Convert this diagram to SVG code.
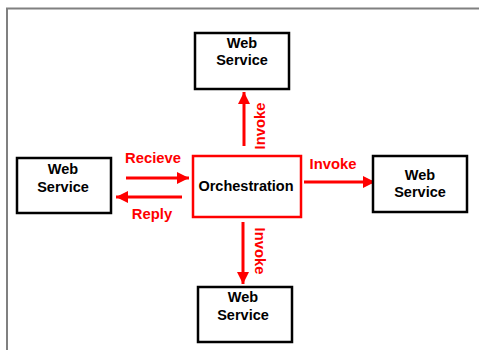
<svg xmlns="http://www.w3.org/2000/svg" width="479" height="350" viewBox="0 0 479 350">
  <style>
    .svc { fill: #ffffff; stroke: #000000; stroke-width: 2.5; }
    .orch { fill: #ffffff; stroke: #ff0000; stroke-width: 2.5; }
    .lbl { font-family: "Liberation Sans", Arial, sans-serif; font-weight: bold; font-size: 14.5px; fill: #000000; text-anchor: middle; }
    .red { font-family: "Liberation Sans", Arial, sans-serif; font-weight: bold; font-size: 14.8px; fill: #ff0000; text-anchor: middle; }
    .wire { stroke: #ff0000; stroke-width: 3; fill: none; marker-end: url(#head); }
  </style>
  <defs>
    <marker id="head" viewBox="0 0 10 10" refX="10" refY="5" markerWidth="4" markerHeight="4" orient="auto" markerUnits="strokeWidth">
      <path d="M0,0 L10,5 L0,10 Z" fill="#ff0000"/>
    </marker>
  </defs>

  <rect width="479" height="350" fill="#ffffff"/>
  <!-- page frame -->
  <path d="M7,350 V8.5 H479" fill="none" stroke="#808080" stroke-width="2"/>

  <g id="connectors">
    <line class="wire" x1="244" y1="146" x2="244" y2="92"/>
    <line class="wire" x1="126" y1="178" x2="189" y2="178"/>
    <line class="wire" x1="182" y1="197" x2="116" y2="197"/>
    <line class="wire" x1="304" y1="182" x2="375" y2="182"/>
    <line class="wire" x1="243" y1="222" x2="243" y2="284"/>
    <text class="red" transform="translate(265,126) rotate(-90)">Invoke</text>
    <text class="red" x="153" y="163">Recieve</text>
    <text class="red" x="152" y="219">Reply</text>
    <text class="red" x="333" y="169">Invoke</text>
    <text class="red" transform="translate(255,251) rotate(90)">Invoke</text>
  </g>

  <g id="ws-top">
    <rect class="svc" x="195" y="33" width="94" height="56"/>
    <text class="lbl" x="242" y="48">Web</text>
    <text class="lbl" x="242" y="65">Service</text>
  </g>

  <g id="ws-left">
    <rect class="svc" x="17" y="158" width="94" height="55"/>
    <text class="lbl" x="63" y="174">Web</text>
    <text class="lbl" x="63" y="192">Service</text>
  </g>

  <g id="orchestration">
    <rect class="orch" x="193" y="156" width="108" height="61"/>
    <text class="lbl" x="246" y="191">Orchestration</text>
  </g>

  <g id="ws-right">
    <rect class="svc" x="373" y="156" width="94" height="56"/>
    <text class="lbl" x="420" y="180">Web</text>
    <text class="lbl" x="420" y="197">Service</text>
  </g>

  <g id="ws-bottom">
    <rect class="svc" x="198" y="287" width="94" height="55"/>
    <text class="lbl" x="243" y="302">Web</text>
    <text class="lbl" x="243" y="320">Service</text>
  </g>
</svg>
